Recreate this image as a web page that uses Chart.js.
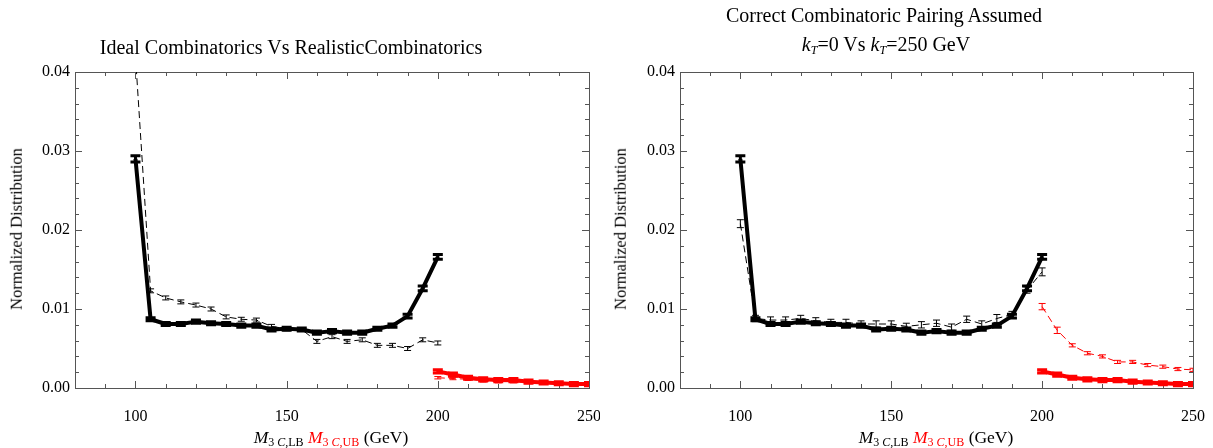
<!DOCTYPE html>
<html><head><meta charset="utf-8">
<script src="https://cdn.jsdelivr.net/npm/chart.js@4.4.0/dist/chart.umd.min.js"></script>
<style>
html,body{margin:0;padding:0;background:#fff;}
body{width:1213px;height:448px;position:relative;overflow:hidden;font-family:"Liberation Serif","DejaVu Serif",serif;color:#000;}
canvas{position:absolute;top:0;}
.title{position:absolute;font-size:20px;white-space:nowrap;transform:translate(-50%,-50%);line-height:1;}
.ylab{position:absolute;font-size:16.5px;white-space:nowrap;transform:translate(-50%,-50%) rotate(-90deg);line-height:1;color:#000;}
.xlab{position:absolute;font-size:17.5px;white-space:nowrap;transform:translate(-50%,-50%);line-height:1;}
.it{font-style:italic;}
.sb{font-size:12px;vertical-align:-3px;}
.red{color:#ff0000;}
</style></head>
<body>
<canvas id="c1" width="600" height="448" style="left:0;"></canvas>
<canvas id="c2" width="613" height="448" style="left:600px;"></canvas>

<div class="title" style="left:291px;top:47px;">Ideal Combinatorics Vs RealisticCombinatorics</div>
<div class="title" style="left:884px;top:15px;">Correct Combinatoric Pairing Assumed</div>
<div class="title" style="left:886px;top:45px;"><span class="it">k<span class="sb">T</span></span>=0 Vs <span class="it">k<span class="sb">T</span></span>=250 GeV</div>

<div class="ylab" style="left:17px;top:229px;">Normalized Distribution</div>
<div class="ylab" style="left:621px;top:229px;">Normalized Distribution</div>

<div class="xlab" style="left:331px;top:438px;"><span class="it">M</span><span class="sb">3 <span class="it">C</span>,LB</span> <span class="red"><span class="it">M</span><span class="sb">3 <span class="it">C</span>,UB</span></span> (GeV)</div>
<div class="xlab" style="left:936px;top:438px;"><span class="it">M</span><span class="sb">3 <span class="it">C</span>,LB</span> <span class="red"><span class="it">M</span><span class="sb">3 <span class="it">C</span>,UB</span></span> (GeV)</div>

<script>
// ---- data ----
const lbBins = [100,105,110,115,120,125,130,135,140,145,150,155,160,165,170,175,180,185,190,195,200];
const ubBins = [200,205,210,215,220,225,230,235,240,245,250];

// ideal combinatorics, kT = 0 (thick black)
const lbIdeal    = [0.0290,0.0087,0.0081,0.0081,0.0084,0.0082,0.0081,0.0079,0.0079,0.0074,0.0075,0.0074,0.0070,0.0072,0.0070,0.0070,0.0075,0.0079,0.0091,0.0126,0.0166];
const lbIdealErr = [0.0004,0.0002,0.0002,0.0002,0.0002,0.0002,0.0002,0.0002,0.0002,0.0002,0.0002,0.0002,0.0002,0.0002,0.0002,0.0002,0.0002,0.0002,0.00025,0.0003,0.0003];
// ideal, upper bound (thick red)
const ubIdeal    = [0.0021,0.0017,0.0013,0.0011,0.0010,0.0010,0.0008,0.0007,0.0006,0.0005,0.0005];
const ubIdealErr = [0.0002,0.0002,0.0002,0.0002,0.0002,0.0002,0.0002,0.0002,0.0002,0.0002,0.0002];

// realistic combinatorics (thin dashed, left panel)
const lbRealistic    = [0.0420,0.0123,0.0114,0.0109,0.0105,0.0100,0.0090,0.0087,0.0086,0.0078,0.0075,0.0074,0.0059,0.0065,0.0059,0.0061,0.0054,0.0054,0.0050,0.0061,0.0057];
const lbRealisticErr = [0.0003,0.00025,0.00025,0.00025,0.00025,0.00025,0.00025,0.00025,0.00025,0.00025,0.00025,0.00025,0.00025,0.00025,0.00025,0.00025,0.00025,0.00025,0.00025,0.00025,0.00025];
const ubRealistic    = [0.0013,0.0012,0.0011,0.0009,0.0008,0.0008,0.0007,0.0006,0.0006,0.0005,0.0005];
const ubRealisticErr = [0.00015,0.00015,0.00015,0.00015,0.00015,0.00015,0.00015,0.00015,0.00015,0.00015,0.00015];

// kT = 250 GeV (thin dashed, right panel)
const lbKt250    = [0.0208,0.0088,0.0086,0.0086,0.0088,0.0085,0.0083,0.0083,0.0081,0.0081,0.0081,0.0078,0.0080,0.0082,0.0077,0.0087,0.0081,0.0088,0.0093,0.0124,0.0147];
const lbKt250Err = [0.0005,0.0004,0.0004,0.0004,0.0004,0.0004,0.0004,0.0004,0.0004,0.0004,0.0004,0.0004,0.0004,0.0004,0.0004,0.0004,0.0004,0.0005,0.0004,0.0004,0.0005];
const ubKt250    = [0.0103,0.0073,0.0054,0.0044,0.0040,0.0033,0.0033,0.0029,0.0027,0.0024,0.0023];
const ubKt250Err = [0.0004,0.0004,0.0002,0.0002,0.0002,0.0002,0.0002,0.0002,0.0002,0.0002,0.0002];

// axes
const xTickLabels = [100,150,200,250];
const yTickLabels = [0.00,0.01,0.02,0.03,0.04];
const xRange = [80,250];
const yRange = [0,0.04];

// ---- helpers ----
const pts = (xs, ys) => xs.map((x,i)=>({x:x, y:ys[i]}));
const BLACK = '#000000', RED = '#ff0000', FRAME = '#555555';

function thick(xs, ys, err, color){
  return {data:pts(xs,ys), errors:err, borderColor:color, backgroundColor:color, borderWidth:4,
    pointRadius:0, tension:0, fill:false, capWidth:10, errWidth:3, borderJoinStyle:'round'};
}
function dashed(xs, ys, err, color){
  return {data:pts(xs,ys), errors:err, borderColor:color, backgroundColor:color, borderWidth:1,
    borderDash:[7,4], pointRadius:0, tension:0, fill:false, capWidth:7, errWidth:1};
}

const errorBars = {
  id:'errorBars',
  afterDatasetDraw(chart, args){
    const ds = chart.data.datasets[args.index];
    if(!ds.errors) return;
    const ctx = chart.ctx, xs = chart.scales.x, ys = chart.scales.y, a = chart.chartArea;
    ctx.save();
    ctx.beginPath(); ctx.rect(a.left, a.top-1, a.right-a.left, a.bottom-a.top+2); ctx.clip();
    ctx.strokeStyle = ds.borderColor; ctx.lineWidth = ds.errWidth; ctx.setLineDash([]);
    ds.data.forEach((p,i)=>{
      const e = ds.errors[i];
      const x = xs.getPixelForValue(p.x);
      const y1 = ys.getPixelForValue(p.y-e), y2 = ys.getPixelForValue(p.y+e);
      const w = ds.capWidth/2;
      ctx.beginPath();
      ctx.moveTo(x,y1); ctx.lineTo(x,y2);
      ctx.moveTo(x-w,y1); ctx.lineTo(x+w,y1);
      ctx.moveTo(x-w,y2); ctx.lineTo(x+w,y2);
      ctx.stroke();
    });
    ctx.restore();
  }
};

const frameTicks = {
  id:'frameTicks',
  beforeDatasetsDraw(chart){
    const ctx = chart.ctx, xs = chart.scales.x, ys = chart.scales.y, a = chart.chartArea;
    ctx.save();
    ctx.strokeStyle = FRAME; ctx.lineWidth = 1;
    ctx.strokeRect(Math.round(a.left)+0.5, Math.round(a.top)+0.5, Math.round(a.right-a.left), Math.round(a.bottom-a.top));
    ctx.beginPath();
    for(let v=xRange[0]; v<=xRange[1]; v+=10){
      const x = Math.round(xs.getPixelForValue(v))+0.5;
      const L = (v%50===0)?7:4;
      ctx.moveTo(x,a.bottom); ctx.lineTo(x,a.bottom-L);
      ctx.moveTo(x,a.top); ctx.lineTo(x,a.top+L);
    }
    for(let k=0; k<=20; k++){
      const v = k*0.002;
      const y = Math.round(ys.getPixelForValue(v))+0.5;
      const L = (k%5===0)?7:4;
      ctx.moveTo(a.left,y); ctx.lineTo(a.left+L,y);
      ctx.moveTo(a.right,y); ctx.lineTo(a.right-L,y);
    }
    ctx.stroke();
    ctx.restore();
  }
};

function makeChart(id, datasets, yWidth, padRight){
  return new Chart(document.getElementById(id), {
    type:'line',
    data:{datasets:datasets},
    plugins:[frameTicks, errorBars],
    options:{
      responsive:false, animation:false, devicePixelRatio:1,
      layout:{padding:{left:0, right:padRight, top:72, bottom:0}},
      plugins:{legend:{display:false}, tooltip:{enabled:false}, title:{display:false}},
      scales:{
        x:{type:'linear', min:xRange[0], max:xRange[1],
          afterBuildTicks:s=>{s.ticks = xTickLabels.map(v=>({value:v}));},
          afterFit:s=>{s.height = 60; s.paddingLeft = 0; s.paddingRight = 0;},
          grid:{display:false, drawTicks:false}, border:{display:false},
          ticks:{autoSkip:false, maxRotation:0, padding:19, color:'#000',
            font:{family:'Liberation Serif', size:16}, callback:v=>String(v)}},
        y:{type:'linear', min:yRange[0], max:yRange[1],
          afterBuildTicks:s=>{s.ticks = yTickLabels.map(v=>({value:v}));},
          afterFit:s=>{s.width = yWidth; s.paddingTop = 0; s.paddingBottom = 0;},
          grid:{display:false, drawTicks:false}, border:{display:false},
          ticks:{padding:5, color:'#000', font:{family:'Liberation Serif', size:16},
            callback:v=>Number(v).toFixed(2)}}
      }
    }
  });
}

makeChart('c1', [
  thick(lbBins, lbIdeal, lbIdealErr, BLACK),
  thick(ubBins, ubIdeal, ubIdealErr, RED),
  dashed(lbBins, lbRealistic, lbRealisticErr, BLACK),
  dashed(ubBins, ubRealistic, ubRealisticErr, RED)
], 75, 11);

makeChart('c2', [
  thick(lbBins, lbIdeal, lbIdealErr, BLACK),
  thick(ubBins, ubIdeal, ubIdealErr, RED),
  dashed(lbBins, lbKt250, lbKt250Err, BLACK),
  dashed(ubBins, ubKt250, ubKt250Err, RED)
], 80, 20);
</script>
</body></html>
